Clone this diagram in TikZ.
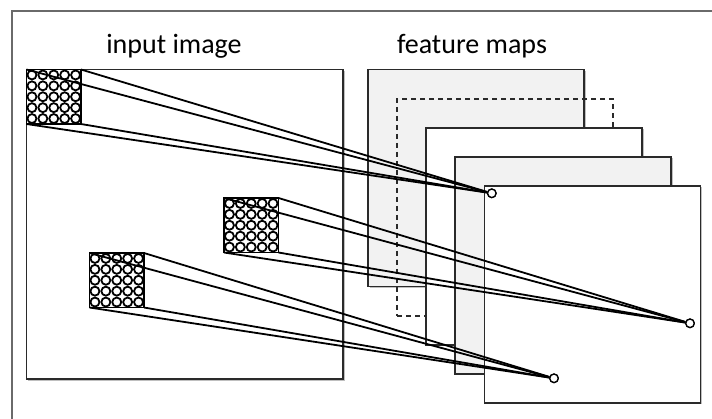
\documentclass[tikz,border=0pt]{standalone}
\usepackage{fontspec}
\setmainfont{Carlito}
\usetikzlibrary{shadows}
\definecolor{boxline}{HTML}{2A2A2A}
\definecolor{mapgray}{HTML}{F2F2F2}
\definecolor{framegray}{HTML}{6A6A6A}
\tikzset{
  shd/.style={drop shadow={shadow xshift=1.5pt,shadow yshift=-1.5pt,opacity=0.25,fill=black}},
  bigbox/.style={draw=boxline,line width=1.6pt,inner sep=0,outer sep=0,anchor=north west,minimum width=316.5pt,minimum height=309.5pt,fill=white,shd},
  fmap/.style={draw=boxline,line width=1.6pt,inner sep=0,outer sep=0,anchor=north west,minimum width=216pt,minimum height=217pt,shd},
  dmap/.style={draw=boxline,line width=1.4pt,dash pattern=on 5pt off 4pt,inner sep=0,outer sep=0,anchor=north west,minimum width=216pt,minimum height=217pt},
  patch/.style={draw=black,line width=1.6pt,inner sep=0,outer sep=0,anchor=north west,minimum width=54.5pt,minimum height=54.5pt,fill=white},
  ray/.style={black,line width=1.8pt},
  outdot/.style={circle,draw=black,fill=white,line width=1.3pt,inner sep=0,minimum size=8.5pt},
  title/.style={font=\fontsize{28}{30}\selectfont,anchor=base,inner sep=0}
}
\newcommand{\mycircles}[1]{%
  \begin{scope}[shift={(#1.north west)}]
    \foreach \i in {0,...,4}{\foreach \j in {0,...,4}{
      \draw[black,line width=1.8pt,fill=white] (5.45+10.9*\i,5.45+10.9*\j) circle (4.5);
    }}
  \end{scope}}
\begin{document}
\begin{tikzpicture}[x=1pt,y=-1pt]
\useasboundingbox (0,0) rectangle (712,418);
\fill[white] (0,0) rectangle (712,418);
% frame
\draw[framegray,line width=1.3pt] (12,425) -- (12,11) -- (720,11);
% titles
\node[title] (t1) at (174,53) {input image};
\node[title] (t2) at (472,53) {feature maps};
% input image
\node[bigbox] (inp) at (26.5,69.5) {};
% patches
\node[patch] (p1) at (26.5,69.5) {};
\mycircles{p1}
\draw[black,line width=1.6pt] (p1.north west) rectangle (p1.south east);
\node[patch] (p2) at (224,198) {};
\mycircles{p2}
\draw[black,line width=1.6pt] (p2.north west) rectangle (p2.south east);
\node[patch] (p3) at (89.5,253) {};
\mycircles{p3}
\draw[black,line width=1.6pt] (p3.north west) rectangle (p3.south east);
% feature maps
\node[fmap,fill=mapgray] (m1) at (368,69.5) {};
\node[dmap] (m2) at (397,98.8) {};
\node[fmap,fill=white] (m3) at (426,127.7) {};
\node[fmap,fill=mapgray] (m4) at (455,156.7) {};
\node[fmap,fill=white] (m5) at (484.5,185.7) {};
% output dots
\node[outdot] (d1) at (491.8,193.3) {};
\node[outdot] (d2) at (690,323.3) {};
\node[outdot] (d3) at (554,378.3) {};
% rays
\foreach \p/\d in {p1/d1,p2/d2,p3/d3}{
  \draw[ray] (\p.north west) -- (\d);
  \draw[ray] (\p.north east) -- (\d);
  \draw[ray] (\p.south west) -- (\d);
  \draw[ray] (\p.south east) -- (\d);
}
\node[outdot] at (d1) {};
\node[outdot] at (d2) {};
\node[outdot] at (d3) {};
\end{tikzpicture}
\end{document}
